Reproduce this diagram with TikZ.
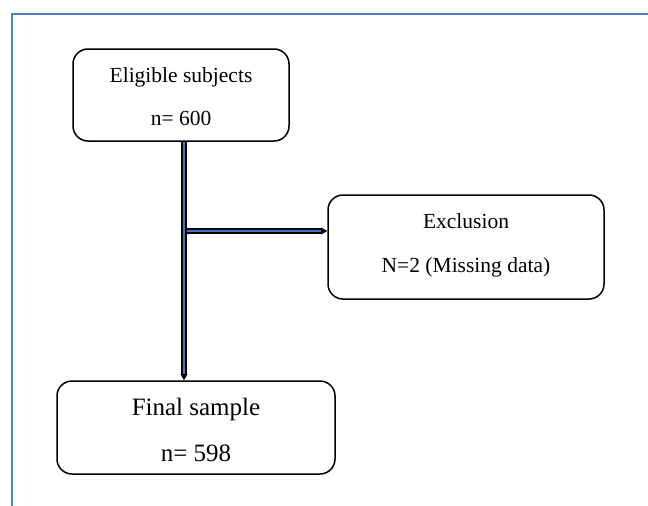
\documentclass[tikz,border=0pt]{standalone}
\usepackage{fontspec}
\setmainfont{Liberation Serif}
\usetikzlibrary{arrows.meta}
\definecolor{frameblue}{RGB}{79,129,189}
\definecolor{linkblue}{RGB}{68,114,196}
\begin{document}
\begin{tikzpicture}[x=1pt,y=-1pt,
  box/.style={draw, line width=1.5pt, rounded corners=15pt, inner sep=0pt},
  txt/.style={anchor=base, inner sep=0pt, font=\fontsize{21.5}{25}\selectfont},
  txtbig/.style={anchor=base, inner sep=0pt, font=\fontsize{25}{29}\selectfont},
  link/.style={draw=black, line width=1.3pt, double=linkblue, double distance=2.8pt},
  tip/.style={draw=black, line width=1.2pt, -{Stealth[length=6pt,width=7pt]}}]
\useasboundingbox (0,0) rectangle (648,506);
\draw[frameblue, line width=2.4pt] (12,506) -- (12,14) -- (648,14);
% boxes
\node[box, minimum width=216pt, minimum height=92pt] (elig) at (181,95) {};
\node[box, minimum width=276pt, minimum height=104pt] (excl) at (466,247) {};
\node[box, minimum width=278pt, minimum height=93pt] (final) at (196,427.5) {};
% texts
\node[txt] (e1) at (181,82) {Eligible subjects};
\node[txt] (e2) at (181,125) {n= 600};
\node[txt] (x1) at (466,228) {Exclusion};
\node[txt] (x2) at (466,272) {N=2 (Missing data)};
\node[txtbig] (f1) at (196,415) {Final sample};
\node[txtbig] (f2) at (196,461) {n= 598};
% connectors
\coordinate (j) at (184,231);
\coordinate (a1) at (elig.south -| j);
\coordinate (a2) at (j -| excl.west);
\coordinate (a3) at (final.north -| j);
\draw[link, shorten >=5pt] (j) -- (a2);
\draw[tip] ([xshift=-6pt]a2) -- (a2);
\draw[link, shorten >=5pt] (a1) -- (a3);
\draw[tip] ([yshift=6pt]a3) -- (a3);
\end{tikzpicture}
\end{document}
